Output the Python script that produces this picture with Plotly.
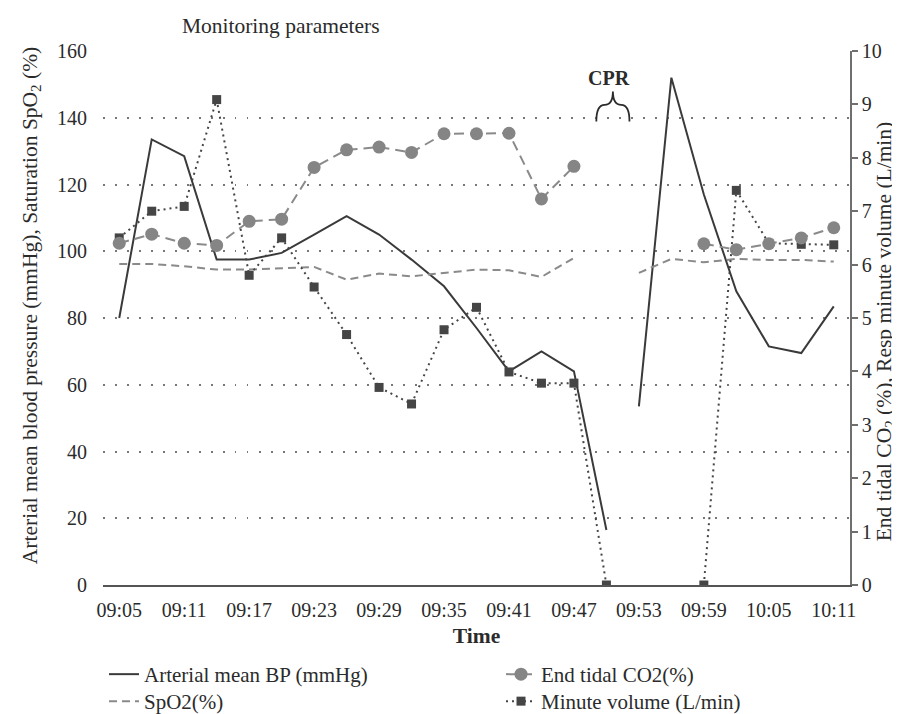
import plotly.graph_objects as go

# ---- data ----
times = ["09:05", "09:08", "09:11", "09:14", "09:17", "09:20", "09:23", "09:26",
         "09:29", "09:32", "09:35", "09:38", "09:41", "09:44", "09:47", "09:50",
         "09:53", "09:56", "09:59", "10:02", "10:05", "10:08", "10:11"]

# Arterial mean BP (mmHg) - before and after CPR (two separate segments)
bp_before = [80, 133.5, 128.5, 97.5, 97.5, 99.5, 105, 110.5, 105, 97.5, 89.5,
             77, 64, 70, 64, 16.5]
bp_after = [53.5, 152, 117, 88, 71.5, 69.5, 83.5]

spo2 = [96.2, 96.2, 95.5, 94.5, 94.5, 95, 95.3, 91.5, 93.3, 92.5, 93.5, 94.5,
        94.3, 92.3, 98, None, 93.5, 97.7, 96.7, 97.7, 97.4, 97.4, 96.9]

etco2 = [6.40, 6.57, 6.40, 6.36, 6.81, 6.85, 7.82, 8.15, 8.20, 8.10, 8.45, 8.45,
         8.46, 7.23, 7.84, None, None, None, 6.39, 6.28, 6.39, 6.50, 6.69]

minute_volume = [6.50, 7.00, 7.09, 9.09, 5.80, 6.50, 5.58, 4.69, 3.70, 3.39, 4.78,
                 5.20, 3.99, 3.78, 3.78, 0, None, None, 0, 7.39, 6.40, 6.38, 6.37]

idx = list(range(len(times)))
n_before = len(bp_before)
tick_idx = idx[::2]
tick_labels = times[::2]

FONT = "Liberation Serif"
TXT = "#2b2b2b"
BIG = 21.5

fig = go.Figure()

fig.add_trace(go.Scatter(
    x=idx[:n_before], y=bp_before, mode="lines", name="Arterial mean BP (mmHg)",
    line=dict(color="#3a3a3a", width=2), legendgroup="bp", legend="legend"))
fig.add_trace(go.Scatter(
    x=idx[n_before:], y=bp_after, mode="lines", name="Arterial mean BP (mmHg)",
    line=dict(color="#3a3a3a", width=2), legendgroup="bp", showlegend=False,
    legend="legend"))

fig.add_trace(go.Scatter(
    x=idx, y=spo2, mode="lines", name="SpO2(%)",
    line=dict(color="#8a8a8a", width=2, dash="8px,5px"), legend="legend3"))

fig.add_trace(go.Scatter(
    x=idx, y=minute_volume, mode="lines+markers", name="Minute volume (L/min)",
    yaxis="y2", line=dict(color="#454545", width=2, dash="2px,4px"),
    marker=dict(symbol="square", size=9, color="#454545"), legend="legend4"))

fig.add_trace(go.Scatter(
    x=idx, y=etco2, mode="lines+markers", name="End tidal CO2(%)",
    yaxis="y2", line=dict(color="#8a8a8a", width=2, dash="10px,6px"),
    marker=dict(symbol="circle", size=13, color="#858585"), legend="legend2"))

# CPR brace (annotation)
cx, hw = 15.2, 0.51
y_end, y_sh, y_tip = 8.68, 8.99, 9.24
brace = (f"M {cx-hw},{y_end} Q {cx-hw},{y_sh} {cx-hw/2},{y_sh} "
         f"Q {cx},{y_sh} {cx},{y_tip} Q {cx},{y_sh} {cx+hw/2},{y_sh} "
         f"Q {cx+hw},{y_sh} {cx+hw},{y_end}")
fig.add_shape(type="path", path=brace, xref="x", yref="y2",
              line=dict(color="#2b2b2b", width=1.8))
fig.add_annotation(x=15.09, y=9.49, xref="x", yref="y2", text="<b>CPR</b>",
                   showarrow=False, font=dict(family=FONT, size=20, color=TXT))

# y-axis titles
fig.add_annotation(x=-0.0964, y=0.524, xref="paper", yref="paper",
                   xanchor="center", yanchor="middle", textangle=-90,
                   showarrow=False,
                   text="Arterial mean blood pressure (mmHg), Saturation SpO<sub>2</sub> (%)",
                   font=dict(family=FONT, size=BIG, color=TXT))
fig.add_annotation(x=1.0475, y=0.476, xref="paper", yref="paper",
                   xanchor="center", yanchor="middle", textangle=-90,
                   showarrow=False,
                   text="End tidal CO<sub>2</sub> (%), Resp minute volume (L/min)",
                   font=dict(family=FONT, size=BIG, color=TXT))

legend_common = dict(orientation="h", xanchor="left", yanchor="top",
                     xref="container", yref="container",
                     font=dict(family=FONT, size=21, color=TXT),
                     bgcolor="rgba(0,0,0,0)")
col1_x, col2_x = 96 / 900, 493 / 900
row1_y, row2_y = 1 - 646 / 714, 1 - 673 / 714

fig.update_layout(
    width=900, height=714,
    margin=dict(l=95, r=58, t=43, b=137),
    paper_bgcolor="white", plot_bgcolor="white",
    font=dict(family=FONT, size=20, color=TXT),
    title=dict(text="Monitoring parameters", x=0.303, xref="container",
               xanchor="center", y=1 - 17 / 714, yanchor="middle",
               font=dict(family=FONT, size=BIG, color=TXT)),
    showlegend=True,
    legend=dict(legend_common, x=col1_x, y=row1_y),
    legend2=dict(legend_common, x=col2_x, y=row1_y),
    legend3=dict(legend_common, x=col1_x, y=row2_y),
    legend4=dict(legend_common, x=col2_x, y=row2_y),
    xaxis=dict(range=[-0.5, 22.5], tickmode="array", tickvals=tick_idx,
               ticktext=tick_labels, showgrid=False, zeroline=False,
               showline=True, linecolor="#555555", linewidth=2, ticks="",
               ticklabelstandoff=6, automargin=False,
               title=dict(text="<b>Time</b>", standoff=8,
                          font=dict(family=FONT, size=BIG, color=TXT))),
    yaxis=dict(range=[0, 160], dtick=20, showgrid=True, gridcolor="#777777",
               gridwidth=1.5, griddash="1.5px,10.5px", zeroline=False,
               showline=False, ticks="", ticklabelstandoff=15, automargin=False),
    yaxis2=dict(range=[0, 10], dtick=1, overlaying="y", side="right",
                showgrid=False, zeroline=False, showline=True,
                linecolor="#6f6f6f", linewidth=1.5, ticks="outside", ticklen=6,
                tickcolor="#6f6f6f", tickwidth=1.5, automargin=False),
)

fig.write_html("out.html")
